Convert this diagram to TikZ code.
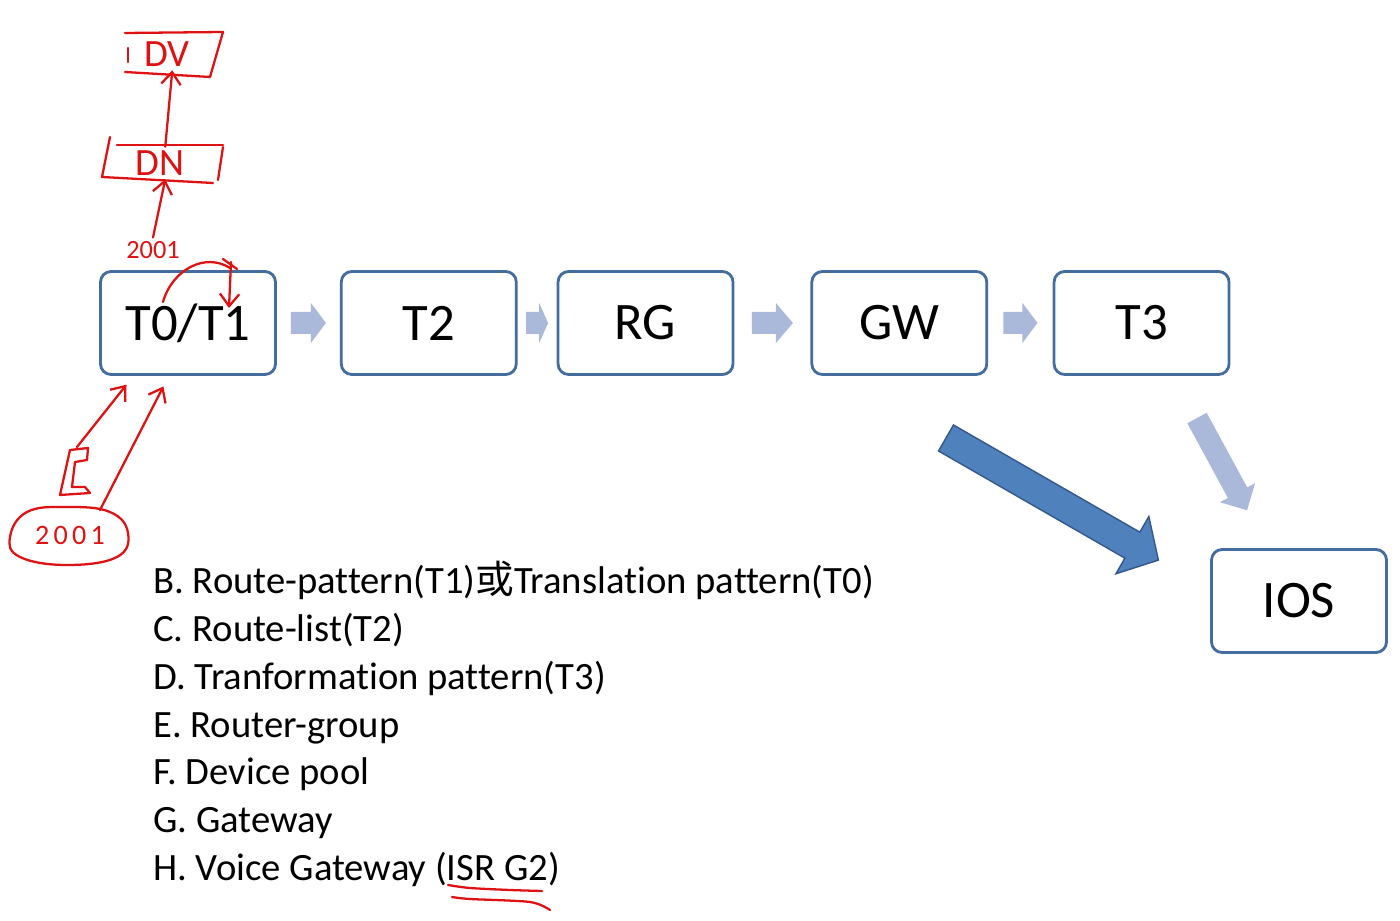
\documentclass[tikz,border=0pt]{standalone}
\usepackage{fontspec}
\setmainfont{Carlito}[Ligatures=NoCommon]
\newfontfamily\cjk{Noto Sans CJK SC}
\usetikzlibrary{positioning,calc,arrows.meta}

\definecolor{boxblue}{RGB}{68,108,158}
\definecolor{paleblue}{RGB}{170,185,218}
\definecolor{bigblue}{RGB}{79,129,189}
\definecolor{bigedge}{RGB}{52,88,138}
\definecolor{ink}{RGB}{222,18,18}

% flat block arrow: style, tail, angle, length, half shaft, half head, head length
\newcommand{\blockarrow}[7]{%
  \path[#1, shift={#2}, rotate=#3] (0,#5) -- ({#4-#7},#5) -- ({#4-#7},#6) -- (#4,0)
    -- ({#4-#7},-#6) -- ({#4-#7},-#5) -- (0,-#5) -- cycle;}

\begin{document}
\begin{tikzpicture}[x=0.02cm, y=0.02cm,
    stage/.style={draw=boxblue, line width=1.6pt, rounded corners=6pt, fill=white,
      minimum width=3.5cm, minimum height=2.06cm, font=\fontsize{30}{36}\selectfont},
    item/.style={anchor=base west, inner sep=0pt, font=\fontsize{22}{26}\selectfont},
    hand/.style={ink, line width=1.3pt, line cap=round, line join=round},
    handtip/.style={hand, -{Straight Barb[length=7pt, width=11pt]}},
    handtext/.style={text=ink, inner sep=2pt, font=\fontsize{22}{24}\selectfont}]
  \useasboundingbox (0,0) rectangle (1400,920);

  % stages
  \node[stage] (t01) at (188,597) {T0/T1};
  \node[stage, right=1.26cm of t01] (t2) {T2};
  \node[stage, right=0.78cm of t2] (rg) {RG};
  \node[stage, right=1.52cm of rg] (gw) {GW};
  \node[stage, right=1.29cm of gw] (t3) {T3};
  \node[stage] (ios) at (1299,319) {IOS};

  % small arrows between stages
  \foreach \a/\b/\len/\hd in {t01/t2/35/15, t2/rg/22/9, rg/gw/41/17, gw/t3/34/15}
    \blockarrow{fill=paleblue}{($(\a.east)!0.5!(\b.west)+(-\len/2,0)$)}{0}{\len}{11}{20}{\hd};

  % arrows down to IOS
  \blockarrow{fill=bigblue, draw=bigedge, line width=0.8pt}{(946,482)}{-29.9}{245}{15}{33}{30}
  \blockarrow{fill=paleblue}{(1197,502)}{-61.5}{105}{11}{20}{20}

  % list
  \foreach \t [count=\i] in {B. Route-pattern(T1){\cjk 或}Translation pattern(T0),
      C. Route-list(T2), D. Tranformation pattern(T3), E. Router-group,
      F. Device pool, G. Gateway, H. Voice Gateway (ISR G2)}
    \node[item] (l\i) at (153,{326-(\i-1)*47.7}) {\t};

  % handwritten notes, top
  \node[handtext] (dv) at (167,866) {DV};
  \draw[hand] (125,887) -- (223,888) -- (210,843) -- (125,848);
  \draw[hand] (128,872) -- (128,858);
  \node[handtext] (dn) at (160,757) {DN};
  \draw[hand] (117,775) -- (223,775);
  \draw[hand] (110,783) -- (102,743) -- (213,737);
  \draw[hand] (223,773) -- (218,740);
  \node[handtext, font=\fontsize{15}{16}\selectfont] (num1) at (153,670) {2001};
  \draw[handtip] ([xshift=3pt]dn.north) -- ([xshift=3pt]dv.south);
  \draw[handtip] (num1.north) -- ([xshift=3pt]dn.south);
  \coordinate (loopa) at (163,618);
  \coordinate (loopb) at (230,652);
  \draw[hand] (loopa) .. controls (172,650) and (205,668) .. (loopb);
  \draw[handtip] (231,658) -- (229,612);
  \draw[hand] (223,661) -- (237,651);

  % handwritten notes, bottom
  \node[handtext, font=\fontsize{16}{18}\selectfont\addfontfeature{LetterSpace=15}] (num2) at (70,385) {2001};
  \draw[hand] plot[smooth cycle, tension=0.7] coordinates
    {(10,383) (27,408) (67,413) (110,408) (128,387) (117,363) (67,355) (20,363)};
  \draw[hand] (70,470) -- (88,472) -- (87,460) -- (75,458) -- (72,433) -- (85,433)
    -- (90,427) -- (60,425) -- cycle;
  \coordinate (e1) at (77,473);
  \coordinate (e2) at (100,410);
  \draw[handtip] (e1) -- ([xshift=-35pt,yshift=-5pt]t01.south);
  \draw[handtip] (e2) -- ([xshift=-14pt,yshift=-6pt]t01.south);

  % underline under ISR G2
  \draw[hand] plot[smooth, tension=0.5] coordinates {(448,35) (470,32) (510,30) (542,29)};
  \draw[hand] plot[smooth, tension=0.5] coordinates {(452,23) (470,21) (530,18) (550,10)};
\end{tikzpicture}
\end{document}
